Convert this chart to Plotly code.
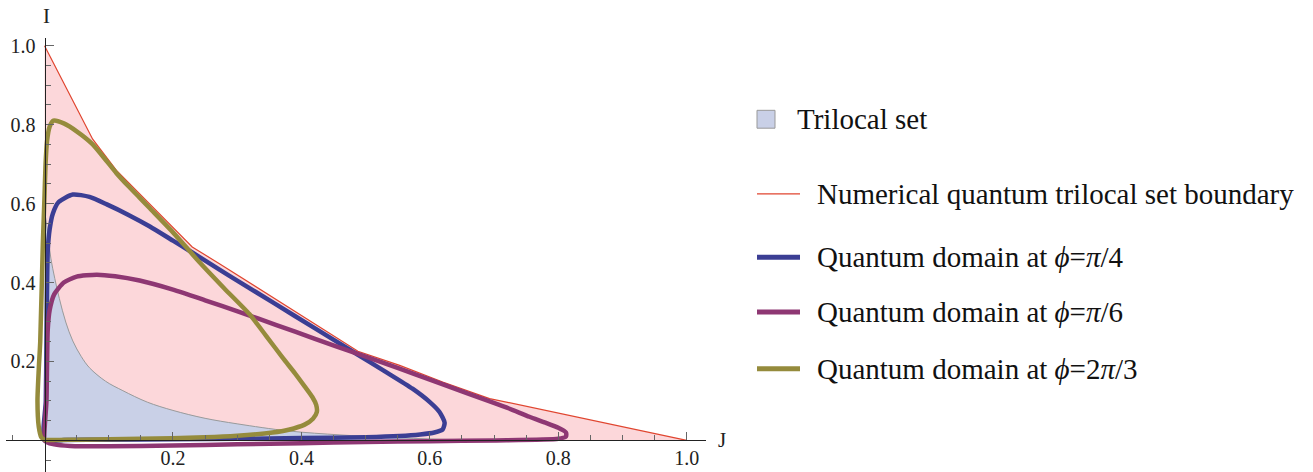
import plotly.graph_objects as go

# ---------------- data (J, I) ----------------
# Numerical quantum trilocal set boundary (red)
red_J = [0.0, 0.075, 0.112, 0.15, 0.184, 0.23, 0.273, 0.35, 0.42, 0.488, 0.553, 0.62, 0.693, 0.85, 1.0]
red_I = [1.0, 0.763, 0.684, 0.622, 0.567, 0.49, 0.447, 0.368, 0.298, 0.226, 0.19, 0.148, 0.106, 0.052, 0.0]

# Trilocal set boundary (gray curve)
tri_J = [0.0, 0.003, 0.006, 0.01, 0.016, 0.023, 0.033, 0.044, 0.057, 0.07, 0.095, 0.122, 0.16, 0.2,
         0.25, 0.3, 0.38, 0.46, 0.53, 0.62, 0.72]
tri_I = [0.58, 0.55, 0.51, 0.46, 0.41, 0.36, 0.30, 0.252, 0.213, 0.184, 0.15, 0.126, 0.097, 0.076,
         0.056, 0.042, 0.024, 0.014, 0.008, 0.003, 0.0]

# Quantum domain at phi = pi/4 (blue)
b_J = [0.0, 0.002, 0.003, 0.004, 0.005, 0.008, 0.013, 0.022, 0.044, 0.07, 0.097, 0.13, 0.164, 0.2, 0.23,
       0.273, 0.3, 0.358, 0.42, 0.488, 0.53, 0.573, 0.6, 0.615, 0.623, 0.62, 0.607, 0.585, 0.553, 0.5,
       0.4, 0.3, 0.2, 0.1, 0.03, 0.0]
b_I = [0.0, 0.1, 0.25, 0.4, 0.48, 0.535, 0.575, 0.604, 0.623, 0.617, 0.598, 0.572, 0.542, 0.506, 0.476,
       0.432, 0.405, 0.347, 0.285, 0.217, 0.175, 0.131, 0.097, 0.072, 0.045, 0.028, 0.02, 0.015, 0.011,
       0.008, 0.006, 0.004, 0.003, 0.002, 0.001, 0.0]

# Quantum domain at phi = pi/6 (magenta)
m_J = [0.0, 0.003, 0.004, 0.005, 0.008, 0.015, 0.03, 0.05, 0.081, 0.11, 0.148, 0.2, 0.25, 0.304, 0.36,
       0.42, 0.488, 0.553, 0.6, 0.65, 0.678, 0.72, 0.755, 0.78, 0.8, 0.812, 0.812, 0.8, 0.7, 0.6, 0.5,
       0.4, 0.3, 0.2, 0.1, 0.04, 0.015, 0.003, 0.0]
m_I = [0.0, 0.1, 0.2, 0.28, 0.33, 0.37, 0.4, 0.415, 0.42, 0.416, 0.405, 0.382, 0.355, 0.325, 0.293,
       0.258, 0.219, 0.182, 0.154, 0.124, 0.108, 0.083, 0.06, 0.045, 0.032, 0.02, 0.01, 0.004, 0.0,
       -0.002, -0.004, -0.007, -0.01, -0.013, -0.015, -0.014, -0.01, -0.004, 0.0]

# Quantum domain at phi = 2pi/3 (olive)
o_J = [0.0, -0.005, -0.009, -0.011, -0.009, -0.0067, -0.0026, 0.0, 0.0016, 0.004, 0.008, 0.014, 0.03,
       0.05, 0.075, 0.097, 0.112, 0.13, 0.148, 0.164, 0.2, 0.241, 0.28, 0.319, 0.345, 0.371, 0.39, 0.405,
       0.417, 0.423, 0.424, 0.418, 0.405, 0.38, 0.355, 0.3, 0.25, 0.15, 0.05, 0.0]
o_I = [0.002, 0.008, 0.035, 0.1, 0.18, 0.25, 0.5, 0.62, 0.7, 0.76, 0.795, 0.81, 0.803, 0.783, 0.75,
       0.707, 0.677, 0.645, 0.615, 0.588, 0.527, 0.452, 0.385, 0.32, 0.265, 0.209, 0.17, 0.137, 0.11,
       0.09, 0.072, 0.055, 0.04, 0.027, 0.02, 0.012, 0.008, 0.004, 0.002, 0.002]

tick_vals = [0.2, 0.4, 0.6, 0.8, 1.0]
tick_text = ["0.2", "0.4", "0.6", "0.8", "1.0"]
minor_vals = [-0.05] + [round(0.05 * k, 2) for k in range(1, 21) if k % 4 != 0]

legend_labels = ["Trilocal set", "Numerical quantum trilocal set boundary",
                 "Quantum domain at <i>ϕ</i>=<i>π</i>/4",
                 "Quantum domain at <i>ϕ</i>=<i>π</i>/6",
                 "Quantum domain at <i>ϕ</i>=2<i>π</i>/3"]

# ---------------- styles ----------------
C_PINK = "#fcd7da"
C_TRI = "#c9d0e7"
C_RED = "#e0452f"
C_GRAY = "#9a9a9a"
C_BLUE = "#3b3e94"
C_MAG = "#8e3773"
C_OLI = "#958b3c"
SERIF = "Liberation Serif, Times New Roman, serif"

W, H = 1313, 472
X0, X1 = -0.06, 1.03
Y0, Y1 = -0.08, 1.02
PX_L, PX_R = 6, 706          # plot area pixels (x)
PY_T = 35                    # plot area top pixel
LEG_FS = 29

fig = go.Figure()

# pink region: under red boundary
fig.add_trace(go.Scatter(x=[0.0] + red_J + [0.0], y=[0.0] + red_I + [0.0], fill="toself",
                         fillcolor=C_PINK, mode="lines", line=dict(width=0),
                         hoverinfo="skip", showlegend=False))
# trilocal set
fig.add_trace(go.Scatter(x=[0.0] + tri_J + [0.0], y=[0.0] + tri_I + [0.0], fill="toself",
                         fillcolor=C_TRI, mode="lines", line=dict(width=0),
                         hoverinfo="skip", showlegend=False))
fig.add_trace(go.Scatter(x=tri_J, y=tri_I, mode="lines", line=dict(color=C_GRAY, width=1, shape="spline"),
                         hoverinfo="skip", showlegend=False))
# red boundary
fig.add_trace(go.Scatter(x=red_J, y=red_I, mode="lines", line=dict(color=C_RED, width=1.2),
                         hoverinfo="skip", showlegend=False))
# quantum domains
for xs, ys, col in [(b_J, b_I, C_BLUE), (m_J, m_I, C_MAG), (o_J, o_I, C_OLI)]:
    fig.add_trace(go.Scatter(x=xs, y=ys, mode="lines",
                             line=dict(color=col, width=4.5, shape="spline", smoothing=0.6),
                             hoverinfo="skip", showlegend=False))

ydom_top = (H - PY_T) / H
x_pos = (0 - Y0) / (Y1 - Y0) * ydom_top
y_pos = (PX_L + (0 - X0) / (X1 - X0) * (PX_R - PX_L)) / W

fig.update_layout(
    width=W, height=H, margin=dict(l=0, r=0, t=0, b=0, pad=0),
    paper_bgcolor="white", plot_bgcolor="white",
    font=dict(family=SERIF, color="#222"),
    xaxis=dict(range=[X0, X1], domain=[PX_L / W, PX_R / W], anchor="free", position=x_pos,
               showgrid=False, zeroline=False, showline=True, linecolor="#222", linewidth=1,
               tickmode="array", tickvals=tick_vals, ticktext=tick_text, ticks="inside",
               ticklen=8, tickcolor="#666", tickfont=dict(size=20, family=SERIF, color="#222"),
               minor=dict(tickmode="array", tickvals=minor_vals, ticks="inside", ticklen=5,
                          tickcolor="#666")),
    yaxis=dict(range=[Y0, Y1], domain=[0, ydom_top], anchor="free", position=y_pos,
               showgrid=False, zeroline=False, showline=True, linecolor="#222", linewidth=1,
               tickmode="array", tickvals=tick_vals, ticktext=tick_text, ticks="inside",
               ticklen=8, tickcolor="#666", tickfont=dict(size=20, family=SERIF, color="#222"),
               ticklabelstandoff=5,
               minor=dict(tickmode="array", tickvals=minor_vals, ticks="inside", ticklen=5,
                          tickcolor="#666")),
)

# axis labels
fig.add_annotation(x=46 / W, y=1 - 13 / H, xref="paper", yref="paper", text="I", showarrow=False,
                   xanchor="center", yanchor="middle", font=dict(size=21, family=SERIF, color="#222"))
fig.add_annotation(x=722 / W, y=1 - 440 / H, xref="paper", yref="paper", text="J", showarrow=False,
                   xanchor="center", yanchor="middle", font=dict(size=21, family=SERIF, color="#222"))

# legend (manual)
leg_y = [117, 192, 256, 311, 368]
# square swatch
fig.add_shape(type="rect", xref="paper", yref="paper", x0=757 / W, x1=775 / W,
              y0=1 - 126 / H, y1=1 - 108 / H, fillcolor=C_TRI, line=dict(color="#999", width=1))
fig.add_annotation(x=795 / W, y=1 - leg_y[0] / H, xref="paper", yref="paper", xanchor="left",
                   yanchor="middle", text=legend_labels[0], showarrow=False,
                   font=dict(size=LEG_FS, family=SERIF, color="#111"))
sw = [(C_RED, 1.2), (C_BLUE, 5), (C_MAG, 5), (C_OLI, 5)]
for k in range(1, 5):
    col, lw = sw[k - 1]
    fig.add_shape(type="line", xref="paper", yref="paper", x0=757 / W, x1=800 / W,
                  y0=1 - leg_y[k] / H, y1=1 - leg_y[k] / H, line=dict(color=col, width=lw))
    fig.add_annotation(x=815 / W, y=1 - leg_y[k] / H, xref="paper", yref="paper", xanchor="left",
                       yanchor="middle", text=legend_labels[k], showarrow=False,
                       font=dict(size=LEG_FS, family=SERIF, color="#111"))

fig.write_html("out.html")
